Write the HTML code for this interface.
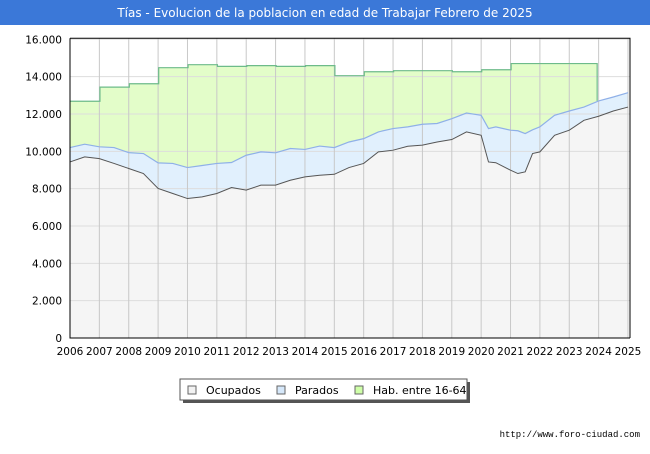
<!DOCTYPE html>
<html><head><meta charset="utf-8"><style>
body{margin:0;background:#fff;font-family:"DejaVu Sans","Liberation Sans",sans-serif;}
</style></head><body>
<svg id="c" width="650" height="450" xmlns="http://www.w3.org/2000/svg">
<rect x="0" y="0" width="650" height="25" fill="#3b78d8"/>
<text x="325" y="17" text-anchor="middle" fill="#fff" font-size="12">Tías - Evolucion de la poblacion en edad de Trabajar Febrero de 2025</text>
<g id="plot"></g>
<g>
<rect x="183" y="382" width="287" height="21" fill="#555"/>
<rect x="180" y="379" width="287" height="21" fill="#fff" stroke="#555"/>
<rect x="188" y="386" width="8" height="8" fill="#f2f2f2" stroke="#666"/>
<text x="206" y="394" font-size="11">Ocupados</text>
<rect x="277" y="386" width="8" height="8" fill="#d6e8fa" stroke="#666"/>
<text x="295" y="394" font-size="11">Parados</text>
<rect x="355" y="386" width="8" height="8" fill="#cfffa8" stroke="#666"/>
<text x="373" y="394" font-size="11">Hab. entre 16-64</text>
</g>
<text x="640" y="437" text-anchor="end" font-size="9" font-family="Liberation Mono, monospace">http://www.foro-ciudad.com</text>
</svg>
<script>
const years=[2006,2007,2008,2009,2010,2011,2012,2013,2014,2015,2016,2017,2018,2019,2020,2021,2022,2023,2024,2025];
const yTicks=[0,2000,4000,6000,8000,10000,12000,14000,16000];
const yTickLabels=["0","2.000","4.000","6.000","8.000","10.000","12.000","14.000","16.000"];
const times=[2006,2006.5,2007,2007.5,2008,2008.5,2009,2009.5,2010,2010.5,2011,2011.5,2012,2012.5,2013,2013.5,2014,2014.5,2015,2015.5,2016,2016.5,2017,2017.5,2018,2018.5,2019,2019.5,2020,2020.25,2020.5,2021,2021.25,2021.5,2021.75,2022,2022.5,2023,2023.5,2024,2024.5,2025];
const ocupados=[9430,9700,9610,9350,9080,8810,8010,7740,7470,7560,7740,8060,7920,8190,8190,8450,8630,8720,8770,9130,9350,9970,10060,10270,10330,10500,10630,11040,10860,9430,9390,8990,8810,8900,9880,9970,10860,11130,11660,11880,12160,12370];
const activos=[10200,10380,10240,10200,9930,9880,9380,9350,9130,9240,9350,9400,9790,9970,9920,10150,10100,10280,10200,10500,10680,11040,11220,11310,11450,11490,11750,12050,11930,11220,11310,11130,11100,10950,11150,11310,11930,12160,12370,12700,12910,13140];
const habYears=[2006,2007,2008,2009,2010,2011,2012,2013,2014,2015,2016,2017,2018,2019,2020,2021,2022,2023];
const hab=[12680,13440,13620,14480,14640,14550,14590,14550,14590,14050,14260,14320,14320,14260,14370,14700,14700,14700];
const NS="http://www.w3.org/2000/svg";
const X0=70,X1=628,Y0=338,Y1=39.3;
const xs=t=>X0+(t-2006)/(2025-2006)*(X1-X0);
const ys=v=>Y0-v/16000*(Y0-Y1);
const g=document.getElementById('plot');
function el(tag,a){const e=document.createElementNS(NS,tag);for(const k in a)e.setAttribute(k,a[k]);g.appendChild(e);return e;}
let bg=el('rect',{x:X0,y:Y1-1,width:630-X0,height:Y0-Y1+1,fill:'#fff'});


let hp=`M${xs(2006)},${ys(hab[0])}`;
for(let i=0;i<habYears.length;i++){const x1=xs(habYears[i]+0.02),x2=xs(i+1<habYears.length?habYears[i+1]+0.02:2023.95);hp+=` L${i?x1:xs(2006)},${ys(hab[i])} L${x2},${ys(hab[i])}`;}
let habLine=hp;
const actPts=times.map((t,i)=>[xs(t),ys(activos[i])]);
const lastAct=activos[times.indexOf(2024)];
hp+=` L${xs(2023.95)},${ys(lastAct)}`;
let actBack=actPts.filter(p=>p[0]<=xs(2023.95)).reverse();
let habArea=hp+' '+actBack.map(p=>`L${p[0]},${p[1]}`).join(' ')+'Z';
let ha=el('path',{d:habArea,fill:'#e3fdc9'});


const ocPts=times.map((t,i)=>[xs(t),ys(ocupados[i])]);
let pa=el('path',{d:'M'+actPts.map(p=>p.join(',')).join(' L')+' '+ocPts.slice().reverse().map(p=>'L'+p.join(',')).join(' ')+'Z',fill:'#e1f0fd'});


let oa=el('path',{d:'M'+ocPts.map(p=>p.join(',')).join(' L')+` L${xs(2025)},${Y0} L${X0},${Y0}Z`,fill:'#f5f5f5'});


yTicks.forEach((v,i)=>{
 let l=el('line',{x1:X0,x2:630,y1:ys(v),y2:ys(v),stroke:'#ddd'});
 
 
 let t=el('text',{x:X0-8,y:ys(v)+4,'text-anchor':'end','font-size':'10.5'});t.textContent=yTickLabels[i];
 
 
});
years.forEach(y=>{
 let l=el('line',{x1:xs(y),x2:xs(y),y1:Y1-1,y2:Y0,stroke:'#c8c8c8'});
 
 
 let t=el('text',{x:xs(y),y:355,'text-anchor':'middle','font-size':'10.5'});t.textContent=y;
 
 
});
let hl=el('path',{d:habLine+` L${xs(2023.95)},${ys(lastAct)}`,fill:'none',stroke:'#6dbb8a','stroke-width':1.2});


let al=el('polyline',{points:actPts.map(p=>p.join(',')).join(' '),fill:'none',stroke:'#8fb0e8','stroke-width':1.2});


let ol=el('polyline',{points:ocPts.map(p=>p.join(',')).join(' '),fill:'none',stroke:'#555','stroke-width':1});


let fr=el('path',{d:`M${X0},${Y1-1} L630,${Y1-1} L630,${Y0} M${X0},${Y1-1} L${X0},${Y0} L630,${Y0}`,fill:'none',stroke:'#000'});


</script>
</body></html>
